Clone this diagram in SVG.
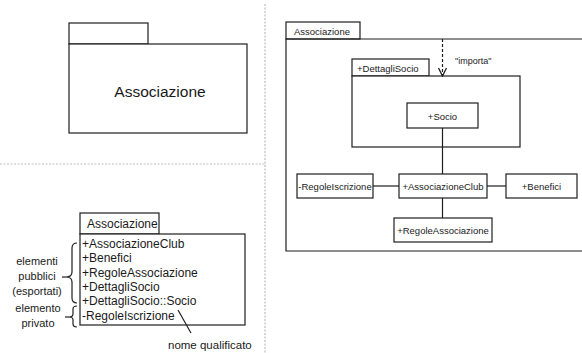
<svg xmlns="http://www.w3.org/2000/svg" width="582" height="353" viewBox="0 0 582 353">
<style>
.s{fill:none;stroke:#1e1e1e;stroke-width:1.2}
.b{fill:#fff;stroke:#1e1e1e;stroke-width:1.2}
.t{font-family:"Liberation Sans",Arial,sans-serif;fill:#1a1a1a}
.sep{stroke:#bdbdbd;stroke-width:1.2;stroke-dasharray:2 1.5;fill:none}
</style>
<defs>
<marker id="open" viewBox="0 0 10 10" refX="9" refY="5" markerWidth="10" markerHeight="10" markerUnits="userSpaceOnUse" orient="auto">
<path d="M1,1 L9,5 L1,9" fill="none" stroke="#1e1e1e" stroke-width="1.3"/>
</marker>
</defs>
<rect width="582" height="353" fill="#fff"/>
<!-- separators -->
<line class="sep" x1="265" y1="4" x2="265" y2="353"/>
<line class="sep" x1="0" y1="164" x2="265" y2="164"/>

<!-- top-left package -->
<g id="pkg-simple">
<rect class="b" x="69" y="23" width="79" height="21"/>
<rect class="b" x="69" y="44" width="178" height="89"/>
<text class="t" x="160" y="97" font-size="15.5" text-anchor="middle">Associazione</text>
</g>

<!-- bottom-left package listing -->
<g id="pkg-list">
<rect class="b" x="80" y="213" width="79" height="21"/>
<rect class="b" x="80" y="234" width="165" height="91"/>
<text class="t" x="87" y="228" font-size="12">Associazione</text>
<g class="t" font-size="12">
<text x="82" y="248">+AssociazioneClub</text>
<text x="82" y="262.3">+Benefici</text>
<text x="82" y="276.6">+RegoleAssociazione</text>
<text x="82" y="290.9">+DettagliSocio</text>
<text x="82" y="305.2">+DettagliSocio::Socio</text>
<text x="82" y="319.5">-RegoleIscrizione</text>
</g>
</g>

<g id="label-pubblici">
<path class="s" d="M77,243 Q72,243 72,248 L72,272 Q72,277 66,277 Q72,277 72,282 L72,298 Q72,303 77,303"/>
<line class="s" x1="62" y1="277" x2="66" y2="277"/>
<g class="t" font-size="11" text-anchor="middle">
<text x="37" y="265">elementi</text>
<text x="37" y="280">pubblici</text>
<text x="37" y="295">(esportati)</text>
</g>
</g>
<g id="label-privato">
<path class="s" d="M77,306 Q73,306 73,309 L73,314 Q73,317 69,317 Q73,317 73,320 L73,324 Q73,327 77,327"/>
<line class="s" x1="65" y1="317" x2="69" y2="317"/>
<g class="t" font-size="11" text-anchor="middle">
<text x="38" y="312">elemento</text>
<text x="38" y="327">privato</text>
</g>
</g>
<g id="label-qualificato">
<line class="s" x1="178" y1="310" x2="191" y2="333"/>
<text class="t" x="168" y="349" font-size="11.5">nome qualificato</text>
</g>

<!-- right: outer package -->
<g id="pkg-outer">
<rect class="b" x="286" y="22" width="74" height="17"/>
<path class="s" d="M582,39 L286,39 L286,251 L582,251"/>
<text class="t" x="294" y="35" font-size="9.5">Associazione</text>
</g>

<g id="pkg-dettagli">
<rect class="b" x="352" y="59" width="77" height="17"/>
<rect class="b" x="352" y="76" width="168" height="71"/>
<text class="t" x="357" y="72" font-size="9.5">+DettagliSocio</text>
</g>

<g id="socio">
<rect class="b" x="407" y="103" width="71" height="25"/>
<text class="t" x="442.5" y="119.5" font-size="9.5" text-anchor="middle">+Socio</text>
</g>

<g id="connectors">
<line class="s" x1="442.5" y1="39" x2="442.5" y2="76" stroke-dasharray="3 2" marker-end="url(#open)"/>
<line class="s" x1="442.5" y1="128" x2="442.5" y2="174"/>
<line class="s" x1="373" y1="186" x2="399" y2="186"/>
<line class="s" x1="487" y1="186" x2="506" y2="186"/>
<line class="s" x1="442.5" y1="198" x2="442.5" y2="218"/>
</g>
<text class="t" x="455" y="64" font-size="9">"importa"</text>

<g id="regole-iscrizione">
<rect class="b" x="297" y="174" width="76" height="24"/>
<text class="t" x="335" y="189.5" font-size="9.5" text-anchor="middle">-RegoleIscrizione</text>
</g>
<g id="associazione-club">
<rect class="b" x="399" y="174" width="88" height="24"/>
<text class="t" x="443" y="189.5" font-size="9.5" text-anchor="middle">+AssociazioneClub</text>
</g>
<g id="benefici">
<rect class="b" x="506" y="174" width="71" height="24"/>
<text class="t" x="541.5" y="189.5" font-size="9.5" text-anchor="middle">+Benefici</text>
</g>
<g id="regole-associazione">
<rect class="b" x="394" y="218" width="98" height="24"/>
<text class="t" x="443" y="233.5" font-size="9.5" text-anchor="middle">+RegoleAssociazione</text>
</g>
</svg>
